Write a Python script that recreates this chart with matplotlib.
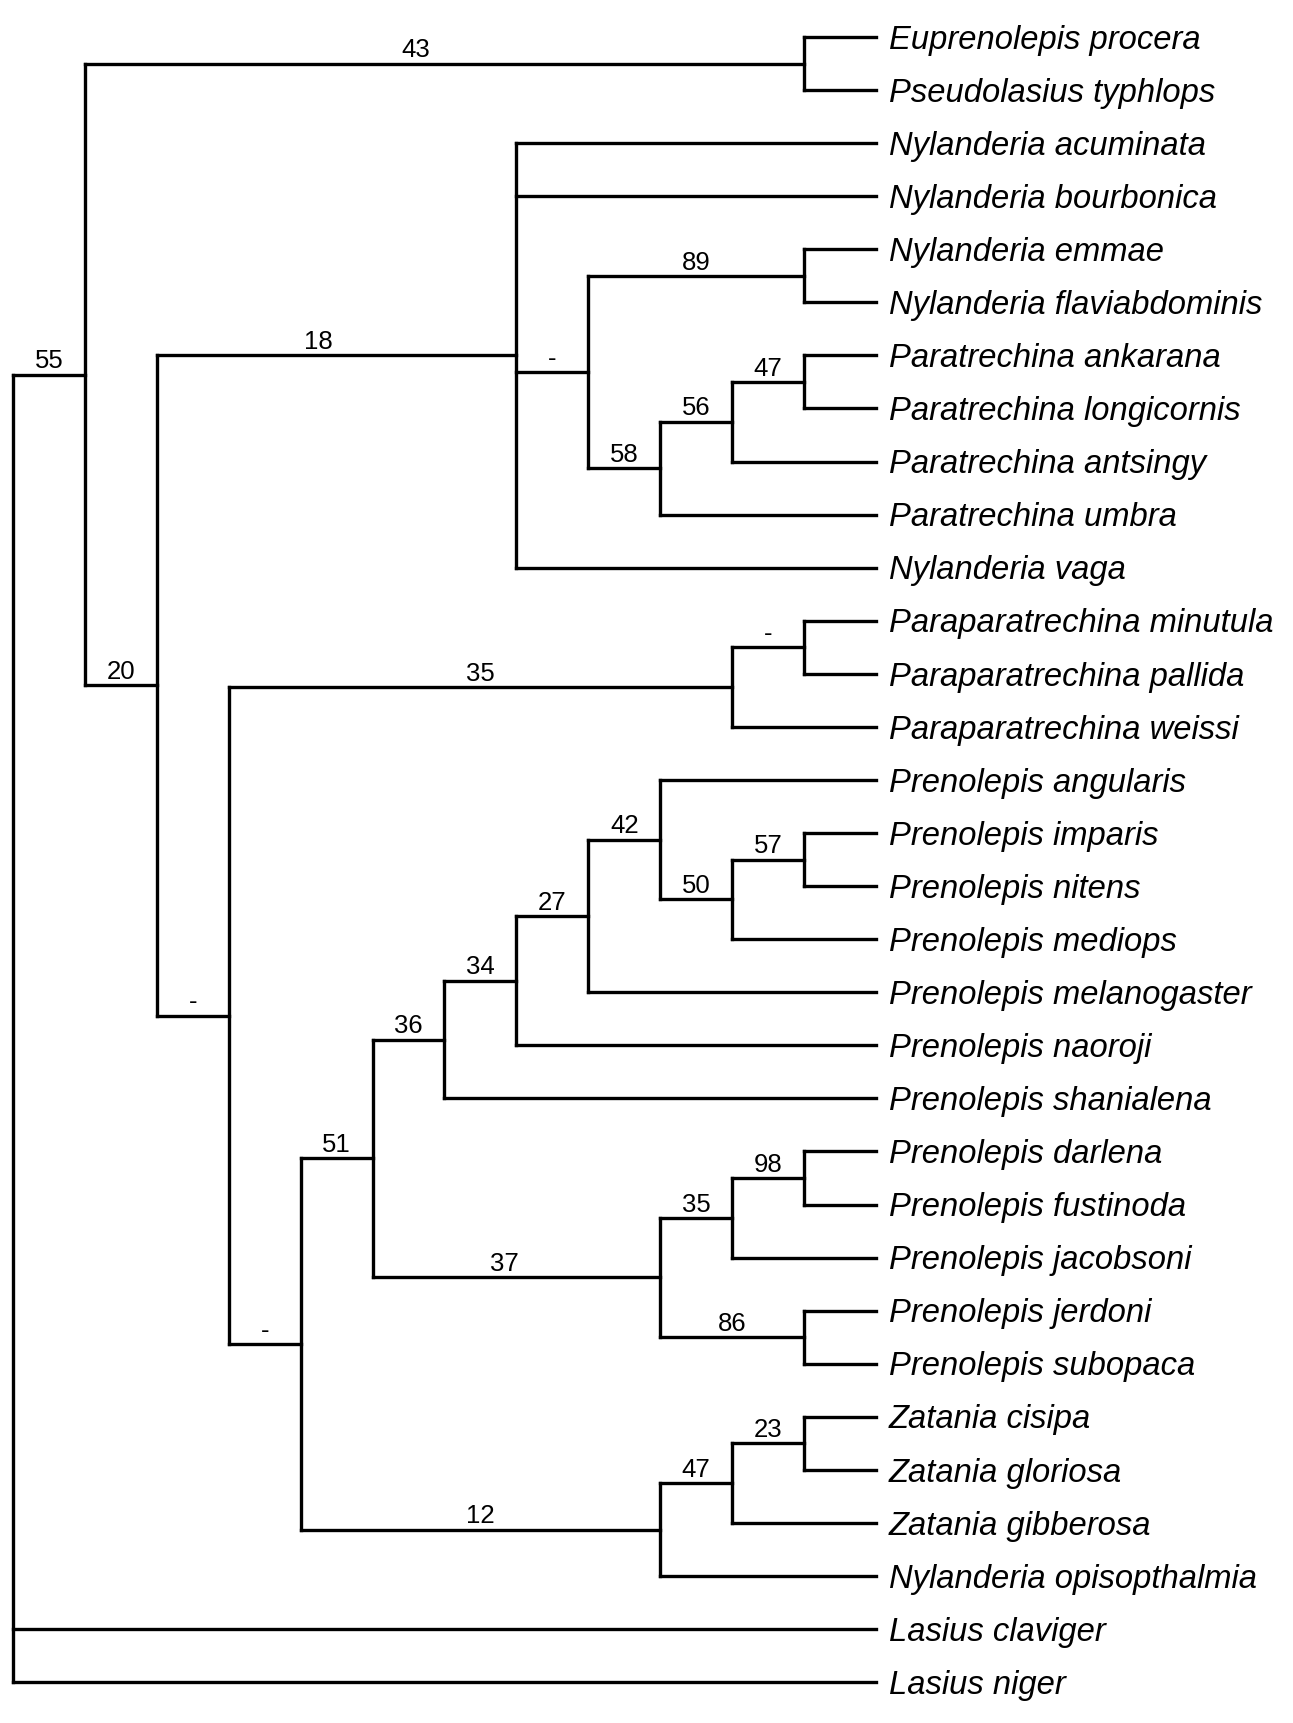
"""Cladogram of Prenolepis-genus-group ants with bootstrap support values."""
import matplotlib.pyplot as plt

INK = "#000000"

# tip order, top to bottom
TAXA = [
    "Euprenolepis procera", "Pseudolasius typhlops",
    "Nylanderia acuminata", "Nylanderia bourbonica", "Nylanderia emmae",
    "Nylanderia flaviabdominis", "Paratrechina ankarana",
    "Paratrechina longicornis", "Paratrechina antsingy", "Paratrechina umbra",
    "Nylanderia vaga", "Paraparatrechina minutula", "Paraparatrechina pallida",
    "Paraparatrechina weissi", "Prenolepis angularis", "Prenolepis imparis",
    "Prenolepis nitens", "Prenolepis mediops", "Prenolepis melanogaster",
    "Prenolepis naoroji", "Prenolepis shanialena", "Prenolepis darlena",
    "Prenolepis fustinoda", "Prenolepis jacobsoni", "Prenolepis jerdoni",
    "Prenolepis subopaca", "Zatania cisipa", "Zatania gloriosa",
    "Zatania gibberosa", "Nylanderia opisopthalmia", "Lasius claviger",
    "Lasius niger",
]
TIP_DEPTH = 12

# internal node: (support, depth, [children]); leaves are taxon names
TREE = (None, 0, [
    ("55", 1, [
        ("43", 11, ["Euprenolepis procera", "Pseudolasius typhlops"]),
        ("20", 2, [
            ("18", 7, [
                "Nylanderia acuminata", "Nylanderia bourbonica",
                ("-", 8, [
                    ("89", 11, ["Nylanderia emmae", "Nylanderia flaviabdominis"]),
                    ("58", 9, [
                        ("56", 10, [
                            ("47", 11, ["Paratrechina ankarana",
                                        "Paratrechina longicornis"]),
                            "Paratrechina antsingy"]),
                        "Paratrechina umbra"]),
                ]),
                "Nylanderia vaga"]),
            ("-", 3, [
                ("35", 10, [
                    ("-", 11, ["Paraparatrechina minutula",
                               "Paraparatrechina pallida"]),
                    "Paraparatrechina weissi"]),
                ("-", 4, [
                    ("51", 5, [
                        ("36", 6, [
                            ("34", 7, [
                                ("27", 8, [
                                    ("42", 9, [
                                        "Prenolepis angularis",
                                        ("50", 10, [
                                            ("57", 11, ["Prenolepis imparis",
                                                        "Prenolepis nitens"]),
                                            "Prenolepis mediops"]),
                                    ]),
                                    "Prenolepis melanogaster"]),
                                "Prenolepis naoroji"]),
                            "Prenolepis shanialena"]),
                        ("37", 9, [
                            ("35", 10, [
                                ("98", 11, ["Prenolepis darlena",
                                            "Prenolepis fustinoda"]),
                                "Prenolepis jacobsoni"]),
                            ("86", 11, ["Prenolepis jerdoni",
                                        "Prenolepis subopaca"]),
                        ]),
                    ]),
                    ("12", 9, [
                        ("47", 10, [
                            ("23", 11, ["Zatania cisipa", "Zatania gloriosa"]),
                            "Zatania gibberosa"]),
                        "Nylanderia opisopthalmia"]),
                ]),
            ]),
        ]),
    ]),
    "Lasius claviger", "Lasius niger",
])

# where along its branch a support value sits (default: middle)
LABEL_POS = {("43", 11): 0.46, ("18", 7): 0.45, ("37", 9): 0.46}

fig = plt.figure(figsize=(12.93, 17.23), dpi=100)
ax = fig.add_axes([0, 0, 1, 1])
ax.set_xlim(-0.181, 17.80)
ax.set_ylim(31.77, -0.697)
ax.axis("off")

LW = 2.4
line_kw = dict(color=INK, lw=LW, solid_capstyle="projecting")


def draw(node):
    """Draw a clade; return (x, y) of its node."""
    if isinstance(node, str):
        y = TAXA.index(node)
        ax.text(TIP_DEPTH + 0.18, y + 0.06, node, style="italic", fontsize=23.6,
                family="Liberation Sans", va="center", ha="left", color=INK)
        return TIP_DEPTH, y
    support, depth, children = node
    pts = [draw(c) for c in children]
    ys = [p[1] for p in pts]
    y = (min(ys) + max(ys)) / 2
    ax.plot([depth, depth], [min(ys), max(ys)], **line_kw)
    for c, (cx, cy) in zip(children, pts):
        ax.plot([depth, cx], [cy, cy], **line_kw)
        if not isinstance(c, str) and c[0] is not None:
            f = LABEL_POS.get((c[0], c[1]), 0.5)
            ax.annotate(c[0], (depth + f * (cx - depth), cy),
                        xytext=(0, 4.5), textcoords="offset points",
                        ha="center", va="baseline", fontsize=18.5,
                        family="Liberation Sans", color=INK)
    return depth, y


draw(TREE)

fig.savefig("out.png", dpi=100)
